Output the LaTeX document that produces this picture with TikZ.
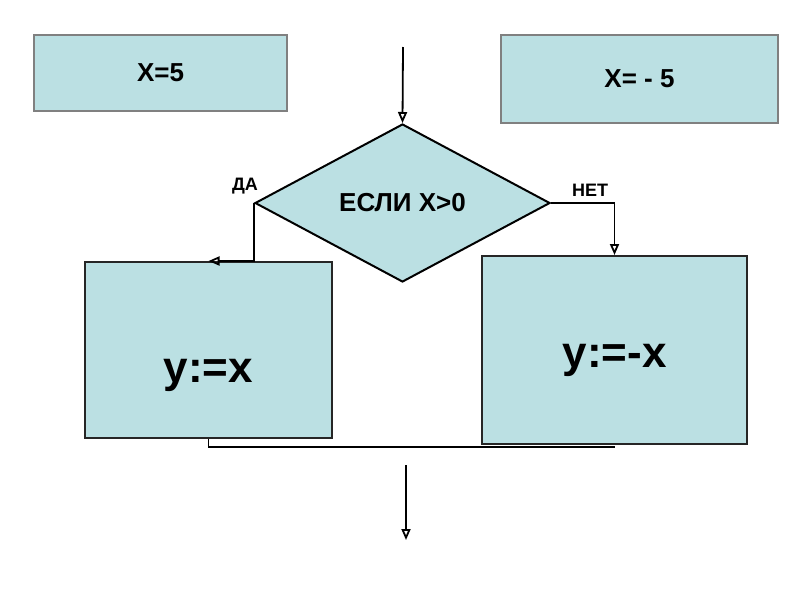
\documentclass[tikz,border=0pt]{standalone}
\usepackage{fontspec}
\setmainfont{Liberation Sans}
\usetikzlibrary{arrows.meta,shapes.geometric}
\definecolor{boxfill}{RGB}{187,224,227}
\definecolor{boxline}{RGB}{128,128,128}

\begin{document}
\begin{tikzpicture}[x=1pt,y=-1pt,
    valbox/.style={draw=boxline,line width=1.5pt,fill=boxfill,inner sep=0pt,
      font=\fontsize{26}{30}\selectfont\bfseries},
    opbox/.style={draw=black!85,line width=2pt,fill=boxfill,inner sep=0pt},
    optext/.style={inner sep=0pt,font=\fontsize{44}{50}\selectfont\bfseries},
    cond/.style={diamond,draw=black,line width=2pt,fill=boxfill,inner sep=0pt,
      font=\fontsize{26}{30}\selectfont\bfseries},
    branch/.style={inner sep=0pt,font=\fontsize{18}{22}\selectfont\bfseries},
    arr/.style={line width=1.8pt,-{Triangle[open,length=11pt,width=9pt]}}]
  \useasboundingbox (0,0) rectangle (800,600);
  % values of x
  \node[valbox,minimum width=253pt,minimum height=76pt] (xpos) at (160.5,73) {X=5};
  \node[valbox,minimum width=277pt,minimum height=88pt] (xneg) at (639.5,79) {X= - 5};
  % decision
  \node[cond,minimum width=295pt,minimum height=158pt] (test) at (402.5,203) {ЕСЛИ X>0};
  \node[branch] (da) at (245,186) {ДА};
  \node[branch] (net) at (590,190) {НЕТ};
  % the two actions
  \node[opbox,minimum width=247pt,minimum height=176pt] (yes) at (208.5,350) {};
  \node[optext] (yestext) at ([yshift=-25pt]yes.center) {y:=x};
  \node[opbox,minimum width=265pt,minimum height=188pt] (no) at (614.5,350) {};
  \node[optext] (notext) at ([yshift=-10pt]no.center) {y:=-x};
  % flow
  \coordinate (in) at (403,47);
  \coordinate (outtop) at (406,465);
  \coordinate (outend) at (406,540);
  \draw[arr] (in) -- (test.north);
  \draw[arr] (test.west) |- (yes.north);
  \draw[arr] (test.east) -| (no.north);
  \draw[line width=1.8pt] (yes.south) |- ([yshift=-2pt]no.south);
  \draw[arr] (outtop) -- (outend);
\end{tikzpicture}
\end{document}
